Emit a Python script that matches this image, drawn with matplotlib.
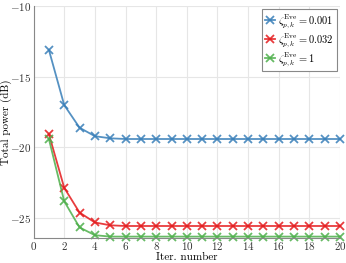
import matplotlib
matplotlib.use("Agg")
import matplotlib.pyplot as plt
import numpy as np

plt.rcParams['font.family'] = 'serif'
plt.rcParams['font.serif'] = ['cmr10', 'DejaVu Serif']
plt.rcParams['mathtext.fontset'] = 'cm'
plt.rcParams['axes.formatter.use_mathtext'] = True
plt.rcParams['axes.unicode_minus'] = True

iters = np.arange(1, 21)
power_001 = [-13.1, -17.0, -18.6, -19.2, -19.35] + [-19.4] * 15
power_032 = [-19.05, -22.85, -24.6, -25.3, -25.5] + [-25.55] * 15
power_1 = [-19.4, -23.8, -25.65, -26.2, -26.3] + [-26.3] * 15
labels = [r'$\zeta_{p,k}^{\rm Eve} = 0.001$',
          r'$\zeta_{p,k}^{\rm Eve} = 0.032$',
          r'$\zeta_{p,k}^{\rm Eve} = 1$']
colors = ['#377eb8', '#e41a1c', '#4daf4a']

fig = plt.figure(figsize=(3.46, 2.63), dpi=100)
ax = fig.add_axes([0.097, 0.095, 0.886, 0.882])

for ys, lab, c in zip([power_001, power_032, power_1], labels, colors):
    ax.plot(iters, ys, color=c, marker='x', markersize=6, markeredgewidth=1.3,
            linewidth=1.3, alpha=0.85, label=lab, clip_on=False)

ax.set_xlim(0, 20)
ax.set_ylim(-26.4, -10)
ax.set_xticks(np.arange(0, 21, 2))
ax.set_yticks([-25, -20, -15, -10])
ax.grid(which='major', color='#e6e6e6', linewidth=0.8)
ax.set_axisbelow(True)
for s in ['top', 'right']:
    ax.spines[s].set_visible(False)
for s in ['left', 'bottom']:
    ax.spines[s].set_color('#888888')
    ax.spines[s].set_linewidth(0.8)
ax.tick_params(length=0, labelsize=8, colors='#333333', pad=1.5)
ax.set_xlabel('Iter. number', fontsize=8, labelpad=0)
ax.set_ylabel('Total power (dB)', fontsize=8)
ax.yaxis.set_label_coords(-0.07, 0.5)
leg = ax.legend(loc='upper right', fontsize=7.5, fancybox=False, framealpha=1,
                edgecolor='#888888', handlelength=1.0, handletextpad=0.3,
                borderpad=0.3, labelspacing=0.1, borderaxespad=0.3)
leg.get_frame().set_linewidth(0.8)

fig.savefig('out.png', dpi=100)
